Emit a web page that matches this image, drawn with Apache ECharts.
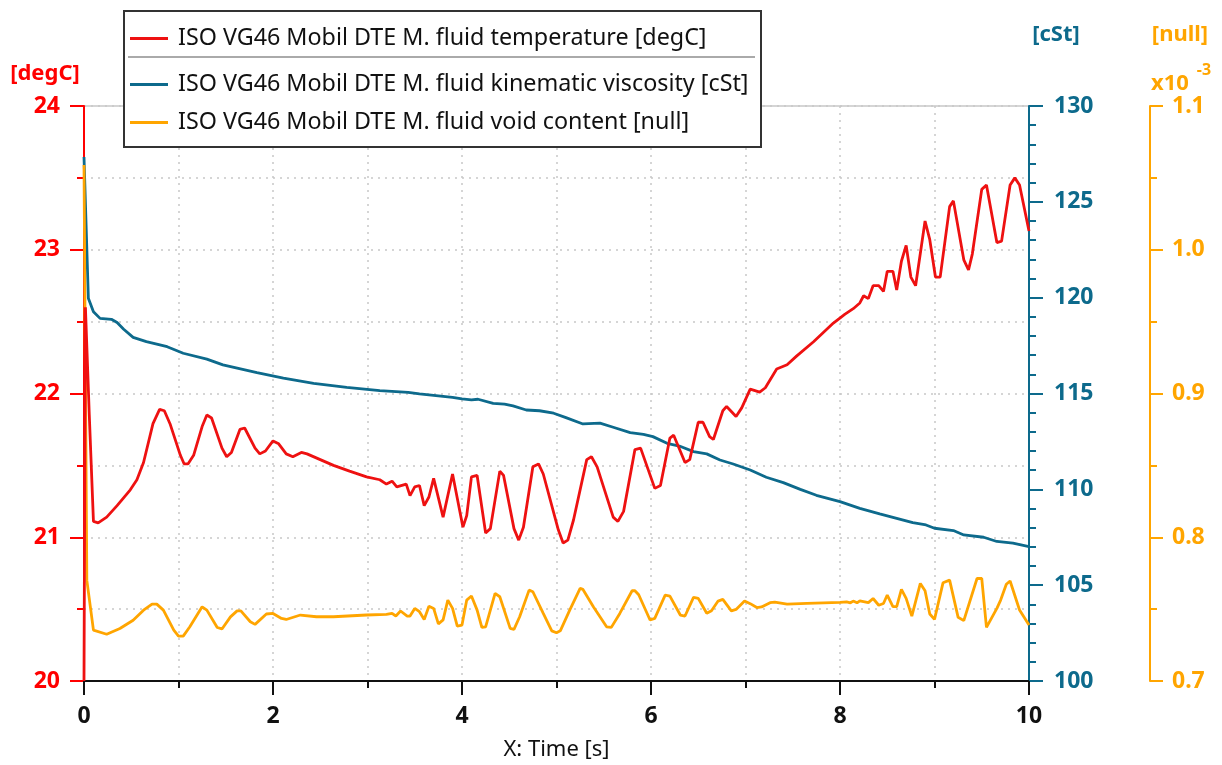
<!DOCTYPE html>
<html>
<head>
<meta charset="utf-8">
<title>ISO VG46 Mobil DTE M. fluid</title>
<script src="https://cdn.jsdelivr.net/npm/echarts@6/dist/echarts.min.js"></script>
<style>
  html, body { margin: 0; padding: 0; background: #ffffff; }
  #chart { width: 1222px; height: 765px; }
</style>
</head>
<body>
<div id="chart"></div>
<script>
// Time samples [s] and fluid temperature [degC]
const tempTime = [0, 0.015, 0.056, 0.10, 0.15, 0.24, 0.35, 0.49, 0.56, 0.63, 0.73, 0.80, 0.85, 0.91, 1.02, 1.06, 1.10, 1.16, 1.25, 1.30, 1.35, 1.46, 1.51, 1.56, 1.65, 1.70, 1.81, 1.86, 1.92, 2.00, 2.06, 2.14, 2.21, 2.30, 2.36, 2.50, 2.64, 2.81, 2.99, 3.13, 3.20, 3.26, 3.31, 3.41, 3.45, 3.50, 3.55, 3.60, 3.65, 3.70, 3.80, 3.90, 4.01, 4.05, 4.10, 4.16, 4.25, 4.30, 4.40, 4.44, 4.55, 4.60, 4.65, 4.75, 4.81, 4.86, 5.02, 5.07, 5.12, 5.18, 5.32, 5.37, 5.43, 5.60, 5.65, 5.71, 5.83, 5.89, 6.04, 6.10, 6.20, 6.24, 6.36, 6.41, 6.50, 6.55, 6.62, 6.66, 6.76, 6.80, 6.90, 6.96, 7.05, 7.15, 7.21, 7.33, 7.44, 7.54, 7.72, 7.93, 8.05, 8.14, 8.21, 8.25, 8.30, 8.35, 8.41, 8.46, 8.50, 8.56, 8.60, 8.65, 8.70, 8.75, 8.80, 8.90, 8.95, 9.01, 9.06, 9.16, 9.20, 9.31, 9.36, 9.40, 9.50, 9.55, 9.66, 9.71, 9.80, 9.85, 9.90, 10.0];
const tempValue = [20, 22.6, 21.85, 21.11, 21.10, 21.14, 21.22, 21.33, 21.40, 21.52, 21.79, 21.89, 21.88, 21.79, 21.57, 21.51, 21.51, 21.57, 21.77, 21.85, 21.83, 21.62, 21.56, 21.59, 21.75, 21.76, 21.62, 21.58, 21.60, 21.67, 21.65, 21.58, 21.56, 21.59, 21.58, 21.54, 21.50, 21.46, 21.42, 21.40, 21.37, 21.39, 21.35, 21.37, 21.29, 21.35, 21.36, 21.22, 21.28, 21.41, 21.14, 21.44, 21.07, 21.15, 21.42, 21.43, 21.03, 21.06, 21.46, 21.43, 21.06, 20.98, 21.07, 21.49, 21.51, 21.44, 21.05, 20.96, 20.98, 21.12, 21.54, 21.56, 21.49, 21.14, 21.11, 21.18, 21.61, 21.62, 21.34, 21.36, 21.69, 21.71, 21.52, 21.54, 21.80, 21.80, 21.70, 21.68, 21.88, 21.91, 21.84, 21.90, 22.03, 22.01, 22.04, 22.17, 22.20, 22.26, 22.36, 22.49, 22.55, 22.59, 22.63, 22.68, 22.66, 22.75, 22.75, 22.71, 22.85, 22.85, 22.72, 22.92, 23.03, 22.81, 22.75, 23.20, 23.07, 22.81, 22.81, 23.30, 23.34, 22.93, 22.86, 22.97, 23.42, 23.45, 23.05, 23.06, 23.45, 23.50, 23.45, 23.13];

// Time samples [s] and kinematic viscosity [cSt]
const viscTime = [0, 0.046, 0.10, 0.17, 0.29, 0.35, 0.42, 0.52, 0.66, 0.88, 1.05, 1.30, 1.47, 1.83, 2.11, 2.43, 2.78, 3.13, 3.43, 3.55, 3.90, 4.00, 4.10, 4.17, 4.33, 4.45, 4.54, 4.68, 4.82, 4.97, 5.10, 5.28, 5.46, 5.60, 5.78, 5.92, 6.02, 6.17, 6.30, 6.45, 6.59, 6.73, 6.87, 7.05, 7.22, 7.40, 7.58, 7.75, 8.00, 8.21, 8.42, 8.60, 8.77, 8.91, 9.00, 9.20, 9.31, 9.52, 9.66, 9.83, 10.0];
const viscValue = [127.34, 119.97, 119.27, 118.92, 118.87, 118.70, 118.35, 117.93, 117.71, 117.44, 117.10, 116.79, 116.49, 116.09, 115.80, 115.53, 115.32, 115.15, 115.06, 114.98, 114.80, 114.72, 114.67, 114.70, 114.49, 114.45, 114.35, 114.14, 114.10, 113.97, 113.74, 113.41, 113.45, 113.24, 112.96, 112.87, 112.75, 112.40, 112.26, 111.97, 111.85, 111.53, 111.32, 111.01, 110.63, 110.35, 110.00, 109.69, 109.36, 109.01, 108.72, 108.49, 108.26, 108.14, 107.97, 107.85, 107.62, 107.50, 107.28, 107.19, 107.01];

// Time samples [s] and void content [x10^-3]
const voidTime = [0, 0.03, 0.10, 0.24, 0.38, 0.52, 0.63, 0.72, 0.77, 0.84, 0.95, 1.00, 1.05, 1.12, 1.25, 1.30, 1.41, 1.46, 1.55, 1.62, 1.66, 1.76, 1.81, 1.93, 2.00, 2.09, 2.14, 2.29, 2.46, 2.64, 2.99, 3.20, 3.26, 3.30, 3.35, 3.42, 3.45, 3.50, 3.55, 3.60, 3.65, 3.70, 3.75, 3.80, 3.85, 3.90, 3.95, 4.00, 4.05, 4.10, 4.16, 4.21, 4.25, 4.35, 4.40, 4.51, 4.55, 4.61, 4.71, 4.75, 4.86, 4.95, 5.00, 5.04, 5.14, 5.25, 5.28, 5.39, 5.53, 5.58, 5.67, 5.80, 5.83, 5.87, 5.99, 6.04, 6.15, 6.20, 6.31, 6.36, 6.45, 6.50, 6.59, 6.64, 6.71, 6.76, 6.85, 6.90, 6.99, 7.05, 7.12, 7.17, 7.26, 7.31, 7.44, 7.65, 8.00, 8.07, 8.11, 8.14, 8.18, 8.21, 8.30, 8.35, 8.41, 8.46, 8.50, 8.56, 8.60, 8.65, 8.70, 8.76, 8.85, 8.90, 8.95, 9.00, 9.09, 9.16, 9.25, 9.31, 9.45, 9.50, 9.55, 9.66, 9.70, 9.76, 9.80, 9.90, 10.0];
const voidValue = [1.059, 0.770, 0.7354, 0.7325, 0.7365, 0.7423, 0.7493, 0.7535, 0.7535, 0.7493, 0.7354, 0.7312, 0.7312, 0.7377, 0.7516, 0.7493, 0.7372, 0.7362, 0.7446, 0.7488, 0.7488, 0.7412, 0.7394, 0.7466, 0.7470, 0.7435, 0.7428, 0.7459, 0.7447, 0.7447, 0.7459, 0.7463, 0.7470, 0.7452, 0.7487, 0.7452, 0.7452, 0.7505, 0.7482, 0.7428, 0.7520, 0.7505, 0.7397, 0.7425, 0.7563, 0.7505, 0.7382, 0.7389, 0.7563, 0.7591, 0.7493, 0.7373, 0.7377, 0.7609, 0.7586, 0.7366, 0.7359, 0.7447, 0.7632, 0.7621, 0.7470, 0.7349, 0.7336, 0.7349, 0.7493, 0.7644, 0.7637, 0.7516, 0.7377, 0.7373, 0.7470, 0.7628, 0.7628, 0.7600, 0.7424, 0.7436, 0.7597, 0.7590, 0.7459, 0.7452, 0.7582, 0.7575, 0.7471, 0.7489, 0.7556, 0.7568, 0.7488, 0.7498, 0.7556, 0.7538, 0.7511, 0.7515, 0.7545, 0.7549, 0.7535, 0.7540, 0.7547, 0.7551, 0.7544, 0.7556, 0.7544, 0.7558, 0.7545, 0.7574, 0.7527, 0.7539, 0.7598, 0.7517, 0.7517, 0.7638, 0.7575, 0.7451, 0.7679, 0.7628, 0.7466, 0.7429, 0.7683, 0.7702, 0.7443, 0.7420, 0.7713, 0.7713, 0.7373, 0.7505, 0.7563, 0.7673, 0.7696, 0.7494, 0.7390];

const seriesNames = [
  'ISO VG46 Mobil DTE M. fluid temperature [degC]',
  'ISO VG46 Mobil DTE M. fluid kinematic viscosity [cSt]',
  'ISO VG46 Mobil DTE M. fluid void content [null]'
];

const RED = '#ff0000';
const BLUE = '#0d6a8c';
const ORANGE = '#ffa500';
const FONT = 'Noto Sans';

const zip = (xs, ys) => xs.map((x, i) => [x, ys[i]]);

const gridDots = { color: '#c8c8c8', width: 1.5, type: [2, 5] };
const tickFont = { fontFamily: FONT, fontSize: 23, fontWeight: 'bold' };
const legendText = { fontFamily: FONT, fontSize: 23.3, color: '#111', lineHeight: 22, padding: [0, 0, 0, 5] };

const chart = echarts.init(document.getElementById('chart'), null, { renderer: 'canvas' });

chart.setOption({
  animation: false,
  backgroundColor: '#ffffff',
  textStyle: { fontFamily: FONT },
  grid: {
    left: 84, right: 193, top: 106, bottom: 84,
    outerBoundsMode: 'none', containLabel: false,
    show: true, borderColor: '#c8c8c8', borderWidth: 1.5, backgroundColor: 'transparent'
  },
  legend: [
    {
      data: [seriesNames[0]],
      orient: 'vertical', left: 125, top: 22,
      icon: 'rect', itemWidth: 38, itemHeight: 3,
      textStyle: legendText,
      z: 6
    },
    {
      data: [seriesNames[1], seriesNames[2]],
      orient: 'vertical', left: 125, top: 68, itemGap: 15,
      icon: 'rect', itemWidth: 38, itemHeight: 3,
      textStyle: legendText,
      z: 6
    }
  ],
  xAxis: {
    type: 'value', min: 0, max: 10, interval: 2,
    name: 'X: Time [s]', nameLocation: 'middle', nameGap: 58,
    nameTextStyle: { fontFamily: FONT, fontSize: 22, color: '#111' },
    axisLine: { lineStyle: { color: '#111', width: 2 } },
    axisTick: { length: 14, lineStyle: { color: '#111', width: 2 } },
    minorTick: { show: true, splitNumber: 2, length: 7, lineStyle: { color: '#111', width: 2 } },
    splitLine: { show: true, lineStyle: gridDots },
    minorSplitLine: { show: true, lineStyle: gridDots },
    axisLabel: Object.assign({ margin: 24, color: '#111' }, tickFont)
  },
  yAxis: [
    {
      type: 'value', position: 'left', min: 20, max: 24, interval: 1,
      axisLine: { show: true, lineStyle: { color: RED, width: 2 } },
      axisTick: { show: true, length: 14, lineStyle: { color: RED, width: 2 } },
      minorTick: { show: true, splitNumber: 2, length: 7, lineStyle: { color: RED, width: 2 } },
      splitLine: { show: true, lineStyle: gridDots },
      minorSplitLine: { show: true, lineStyle: gridDots },
      axisLabel: Object.assign({ margin: 24, color: RED }, tickFont)
    },
    {
      type: 'value', position: 'right', offset: 0, min: 100, max: 130, interval: 5,
      axisLine: { show: true, lineStyle: { color: BLUE, width: 2 } },
      axisTick: { show: true, length: 14, lineStyle: { color: BLUE, width: 2 } },
      minorTick: { show: true, splitNumber: 5, length: 7, lineStyle: { color: BLUE, width: 2 } },
      splitLine: { show: false },
      axisLabel: Object.assign({ margin: 25, color: BLUE }, tickFont)
    },
    {
      type: 'value', position: 'right', offset: 121, min: 0.7, max: 1.1, interval: 0.1,
      axisLine: { show: true, lineStyle: { color: ORANGE, width: 2 } },
      axisTick: { show: true, length: 13, lineStyle: { color: ORANGE, width: 2 } },
      minorTick: { show: true, splitNumber: 2, length: 7, lineStyle: { color: ORANGE, width: 2 } },
      splitLine: { show: false },
      axisLabel: Object.assign({ margin: 22, color: ORANGE, formatter: v => v.toFixed(1) }, tickFont)
    }
  ],
  graphic: [
    // legend frame and separator
    {
      type: 'rect', left: 123, top: 10, z: 3,
      shape: { width: 637, height: 136 },
      style: { fill: '#ffffff', stroke: '#333333', lineWidth: 2 }
    },
    {
      type: 'line', z: 7,
      shape: { x1: 128, y1: 57, x2: 755, y2: 57 },
      style: { stroke: '#aaaaaa', lineWidth: 2 }
    },
    // axis unit captions
    {
      type: 'text', x: 45, y: 74, z: 5,
      style: { text: '[degC]', fill: RED, font: 'bold 22px "Noto Sans"', textAlign: 'center', textVerticalAlign: 'middle' }
    },
    {
      type: 'text', x: 1056, y: 35, z: 5,
      style: { text: '[cSt]', fill: BLUE, font: 'bold 22px "Noto Sans"', textAlign: 'center', textVerticalAlign: 'middle' }
    },
    {
      type: 'text', x: 1180, y: 35, z: 5,
      style: { text: '[null]', fill: ORANGE, font: 'bold 22px "Noto Sans"', textAlign: 'center', textVerticalAlign: 'middle' }
    },
    {
      type: 'text', x: 1170, y: 84, z: 5,
      style: { text: 'x10', fill: ORANGE, font: 'bold 22px "Noto Sans"', textAlign: 'center', textVerticalAlign: 'middle' }
    },
    {
      type: 'text', x: 1204, y: 70, z: 5,
      style: { text: '-3', fill: ORANGE, font: 'bold 16px "Noto Sans"', textAlign: 'center', textVerticalAlign: 'middle' }
    }
  ],
  series: [
    {
      name: seriesNames[0], type: 'line', yAxisIndex: 0, showSymbol: false, z: 4,
      color: '#ee1111', lineStyle: { color: '#ee1111', width: 2.8 },
      data: zip(tempTime, tempValue)
    },
    {
      name: seriesNames[1], type: 'line', yAxisIndex: 1, showSymbol: false, z: 3,
      color: BLUE, lineStyle: { color: BLUE, width: 2.8 },
      data: zip(viscTime, viscValue)
    },
    {
      name: seriesNames[2], type: 'line', yAxisIndex: 2, showSymbol: false, z: 3,
      color: ORANGE, lineStyle: { color: ORANGE, width: 2.8 },
      data: zip(voidTime, voidValue)
    }
  ]
});
</script>
</body>
</html>
